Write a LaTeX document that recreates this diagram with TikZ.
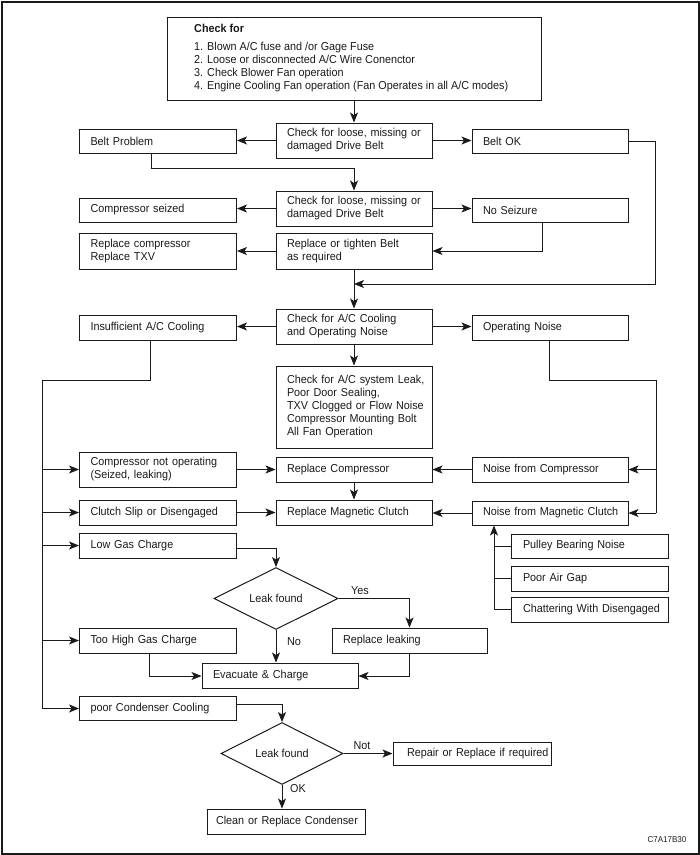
\documentclass[tikz,border=0pt]{standalone}
\usepackage{fontspec}
\setmainfont{Liberation Sans}[FakeStretch=0.94]
\usetikzlibrary{arrows.meta,shapes.geometric}
\definecolor{ink}{HTML}{1A1A1A}
\begin{document}
\begin{tikzpicture}[x=1pt,y=-1pt,
  boxpad/.initial=11pt,
  every node/.style={font=\fontsize{11.5}{13}\selectfont, text=ink},
  bx/.style={draw=ink, line width=1pt, inner xsep=0pt, inner ysep=0pt, text width=157pt, align=left, minimum height=25pt,
     execute at begin node={\leftskip=\pgfkeysvalueof{/tikz/boxpad}\relax}},
  dm/.style={draw=ink, line width=1pt, diamond, inner sep=0pt, minimum width=124pt, minimum height=45pt, align=center},
  ln/.style={draw=ink, line width=0.9pt},
  ar/.style={ln, -{Stealth[length=10pt,width=8pt,inset=2.5pt]}},
  lbl/.style={inner sep=1pt}
]
\useasboundingbox (0,0) rectangle (700,855);
\draw[draw=ink, line width=2pt] (1.5,1.5) rectangle (698.5,853.5);

% top box
\node[draw=ink, line width=1pt, minimum width=374pt, minimum height=83pt, inner sep=0pt] (top) at (354,58.5) {};
\node[anchor=north west, align=left, inner sep=0pt] (toptext) at (194,23.5)
 {\textbf{Check for}\\[5.5pt]
  1. Blown A/C fuse and /or Gage Fuse\\
  2. Loose or disconnected A/C Wire Conenctor\\
  3. Check Blower Fan operation\\
  4. Engine Cooling Fan operation (Fan Operates in all A/C modes)};

% left column
\node[bx, minimum height=24pt] (beltprob) at (158,141) {Belt Problem};
\node[bx, minimum height=24pt] (compseized) at (158,210) {Compressor seized};
\node[bx, minimum height=36pt] (replcomp) at (158,251) {Replace compressor\\Replace TXV};
\node[bx] (insuff) at (158,327.5) {Insufficient A/C Cooling};
\node[bx, minimum height=35pt] (compnot) at (158,469.5) {Compressor not operating\\(Seized, leaking)};
\node[bx] (clutch) at (158,512.5) {Clutch Slip or Disengaged};
\node[bx] (lowgas) at (158,545.5) {Low Gas Charge};
\node[bx] (toohigh) at (158,640.5) {Too High Gas Charge};
\node[bx, minimum height=24pt] (poorcond) at (158,708.5) {poor Condenser Cooling};

% middle column
\node[bx, text width=156pt, minimum height=35pt] (check1) at (354,140.5) {Check for loose, missing or\\damaged Drive Belt};
\node[bx, text width=156pt, minimum height=35pt] (check2) at (354,208.5) {Check for loose, missing or\\damaged Drive Belt};
\node[bx, text width=156pt, minimum height=36pt] (replbelt) at (354,251) {Replace or tighten Belt\\as required};
\node[bx, text width=156pt, minimum height=35pt] (checkac) at (354,326.5) {Check for A/C Cooling\\and Operating Noise};
\node[bx, text width=156pt, minimum height=82pt] (big) at (354,407) {Check for A/C system Leak,\\Poor Door Sealing,\\TXV Clogged or Flow Noise\\Compressor Mounting Bolt\\All Fan Operation};
\node[bx, text width=156pt] (replcompr) at (354,469.5) {Replace Compressor};
\node[bx, text width=156pt] (replmc) at (354,512.5) {Replace Magnetic Clutch};

% right column
\node[bx, text width=156pt, minimum height=24pt] (beltok) at (550,141) {Belt OK};
\node[bx, text width=156pt, minimum height=24pt] (noseiz) at (550,210) {No Seizure};
\node[bx, text width=156pt] (opnoise) at (550,327.5) {Operating Noise};
\node[bx, text width=156pt] (noisecomp) at (550,469.5) {Noise from Compressor};
\node[bx, text width=156pt, minimum height=24pt] (noisemc) at (550,513) {Noise from Magnetic Clutch};

\node[bx, boxpad=12pt, minimum height=24pt] (pulley) at (589.5,546) {Pulley Bearing Noise};
\node[bx, boxpad=12pt] (airgap) at (589.5,578.5) {Poor Air Gap};
\node[bx, boxpad=12pt] (chatter) at (589.5,609.5) {Chattering With Disengaged};

% lower part
\node[dm] (d1) at (276,598.5) {Leak found};
\node[bx, text width=155pt] (replleak) at (409.5,640.5) {Replace leaking};
\node[bx, text width=156pt] (evac) at (280,675.5) {Evacuate \& Charge};
\node[dm, minimum width=122pt] (d2) at (282,753.5) {Leak found};
\node[bx, boxpad=14pt, text width=158pt, minimum height=23pt] (repair) at (472,754) {Repair or Replace if required};
\node[bx, boxpad=9pt, text width=158pt] (clean) at (286,821.5) {Clean or Replace Condenser};

\node[font=\fontsize{8.5}{9}\selectfont, inner sep=0pt] (code) at (667,840) {C7A17B30};

% bend coordinates
\coordinate (b1) at (151,168);
\coordinate (b2) at (542,251);
\coordinate (b3) at (655,284);
\coordinate (b4) at (150,380);
\coordinate (tr) at (42,708.5);
\coordinate (b5) at (549,380);
\coordinate (tr2) at (656,513);
\coordinate (b6) at (494,609.5);
\coordinate (b8) at (149,676);
\coordinate (b9) at (409,676);

% connectors
\draw[ar] (top.south) -- (check1.north);
\draw[ar] (check1.west) -- (check1.west -| beltprob.east);
\draw[ar] (check1.east) -- (check1.east -| beltok.west);
\draw[ar] (beltprob.south -| b1) -- (b1) -| (check2.north);
\draw[ar] (check2.west) -- (check2.west -| compseized.east);
\draw[ar] (check2.east) -- (check2.east -| noseiz.west);
\draw[ar] (noseiz.south -| b2) -- (b2) -- (b2 -| replbelt.east);
\draw[ar] (replbelt.west) -- (replcomp.east);
\draw[ar] (beltok.east) -| (b3) -- (b3 -| replbelt.south);
\draw[ar] (replbelt.south) -- (checkac.north);
\draw[ar] (checkac.west) -- (checkac.west -| insuff.east);
\draw[ar] (checkac.east) -- (checkac.east -| opnoise.west);
\draw[ar] (checkac.south) -- (big.north);

\draw[ln] (insuff.south -| b4) -- (b4) -| (tr);
\draw[ar] (compnot.west -| tr) -- (compnot.west);
\draw[ar] (clutch.west -| tr) -- (clutch.west);
\draw[ar] (lowgas.west -| tr) -- (lowgas.west);
\draw[ar] (toohigh.west -| tr) -- (toohigh.west);
\draw[ar] (tr) -- (poorcond.west);

\draw[ln] (opnoise.south -| b5) -- (b5) -| (tr2);
\draw[ar] (noisecomp.east -| tr2) -- (noisecomp.east);
\draw[ar] (tr2) -- (noisemc.east);

\draw[ar] (compnot.east) -- (replcompr.west);
\draw[ar] (noisecomp.west) -- (replcompr.east);
\draw[ar] (replcompr.south) -- (replmc.north);
\draw[ar] (clutch.east) -- (replmc.west);
\draw[ar] (noisemc.west) -- (noisemc.west -| replmc.east);

\draw[ar] (b6) -- (b6 |- noisemc.south);
\draw[ln] (b6 |- pulley.west) -- (pulley.west);
\draw[ln] (b6 |- airgap.west) -- (airgap.west);
\draw[ln] (b6) -- (chatter.west);

\draw[ar] ([yshift=-2.5pt]lowgas.east) -| (d1.north);
\draw[ar] (d1.east) -| (replleak.north);
\node[lbl] (yes) at (360,591) {Yes};
\draw[ar] (d1.south) -- (d1.south |- evac.north);
\node[lbl] (no) at (294,642) {No};
\draw[ar] (toohigh.south -| b8) -- (b8) -- (b8 -| evac.west);
\draw[ar] (replleak.south -| b9) -- (b9) -- (b9 -| evac.east);

\draw[ar] ([yshift=4.5pt]poorcond.east) -| (d2.north);
\draw[ar] (d2.east) -- (d2.east -| repair.west);
\node[lbl] (not) at (362,746) {Not};
\draw[ar] (d2.south) -- (d2.south |- clean.north);
\node[lbl] (ok) at (298,789) {OK};
\end{tikzpicture}
\end{document}
